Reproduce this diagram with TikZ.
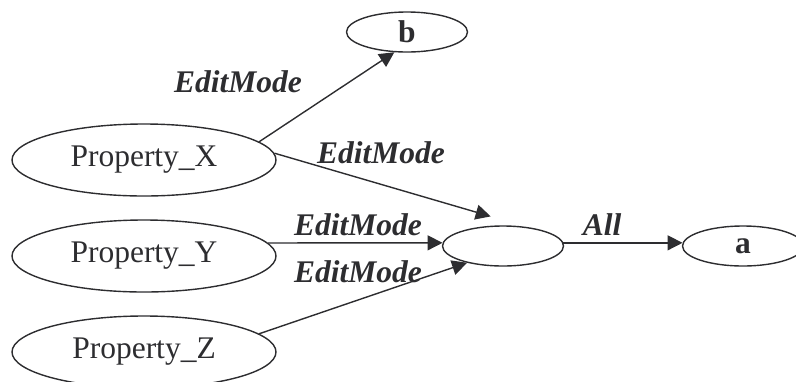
\documentclass[tikz,border=0pt]{standalone}
\usepackage{fontspec}
\setmainfont{Liberation Serif}
\usetikzlibrary{shapes.geometric,arrows.meta}
\definecolor{inkclr}{RGB}{45,45,48}
\tikzset{
  prop/.style={ellipse,draw=inkclr,line width=0.7pt,inner sep=0pt,
    minimum width=132pt,minimum height=36pt,text=inkclr,
    font=\fontsize{15.75pt}{18pt}\selectfont},
  sblk/.style={ellipse,draw=inkclr,line width=0.7pt,inner sep=0pt,
    minimum width=60.5pt,minimum height=20pt,text=inkclr,
    font=\fontsize{15.75pt}{18pt}\selectfont\bfseries},
  arr/.style={-{Triangle[length=7.5pt,width=7.5pt]},line width=0.7pt,color=inkclr},
  lbl/.style={anchor=base,inner sep=0pt,text=inkclr,
    font=\fontsize{15.75pt}{18pt}\selectfont\bfseries\itshape},
}
\begin{document}
\begin{tikzpicture}[x=0.5pt,y=-0.5pt]
  \useasboundingbox (0,0) rectangle (796,381);
  \node[prop] (px) at (144,160) {Property\_X};
  \node[prop] (py) at (144,256) {Property\_Y};
  \node[prop] (pz) at (144,352) {Property\_Z};
  \node[sblk] (b) at (407,32) {b};
  \node[sblk] (mid) at (503,246) {};
  \node[sblk] (a) at (743,246) {a};

  \draw[arr] (px.9)--(b.238);
  \draw[arr,shorten >=18.7pt] (px.3)--(mid.39);
  \draw[arr] (py.6)--(mid.177);
  \draw[arr] (pz.9)--(mid.205);
  \draw[arr] (mid.3)--(a.177);

  % edge labels
  \node[lbl] (l1) at (238,92)  {EditMode};
  \node[lbl] (l2) at (381,163) {EditMode};
  \node[lbl] (l3) at (358,235) {EditMode};
  \node[lbl] (l4) at (358,282) {EditMode};
  \node[lbl] (l5) at (602,235) {All};
\end{tikzpicture}
\end{document}
